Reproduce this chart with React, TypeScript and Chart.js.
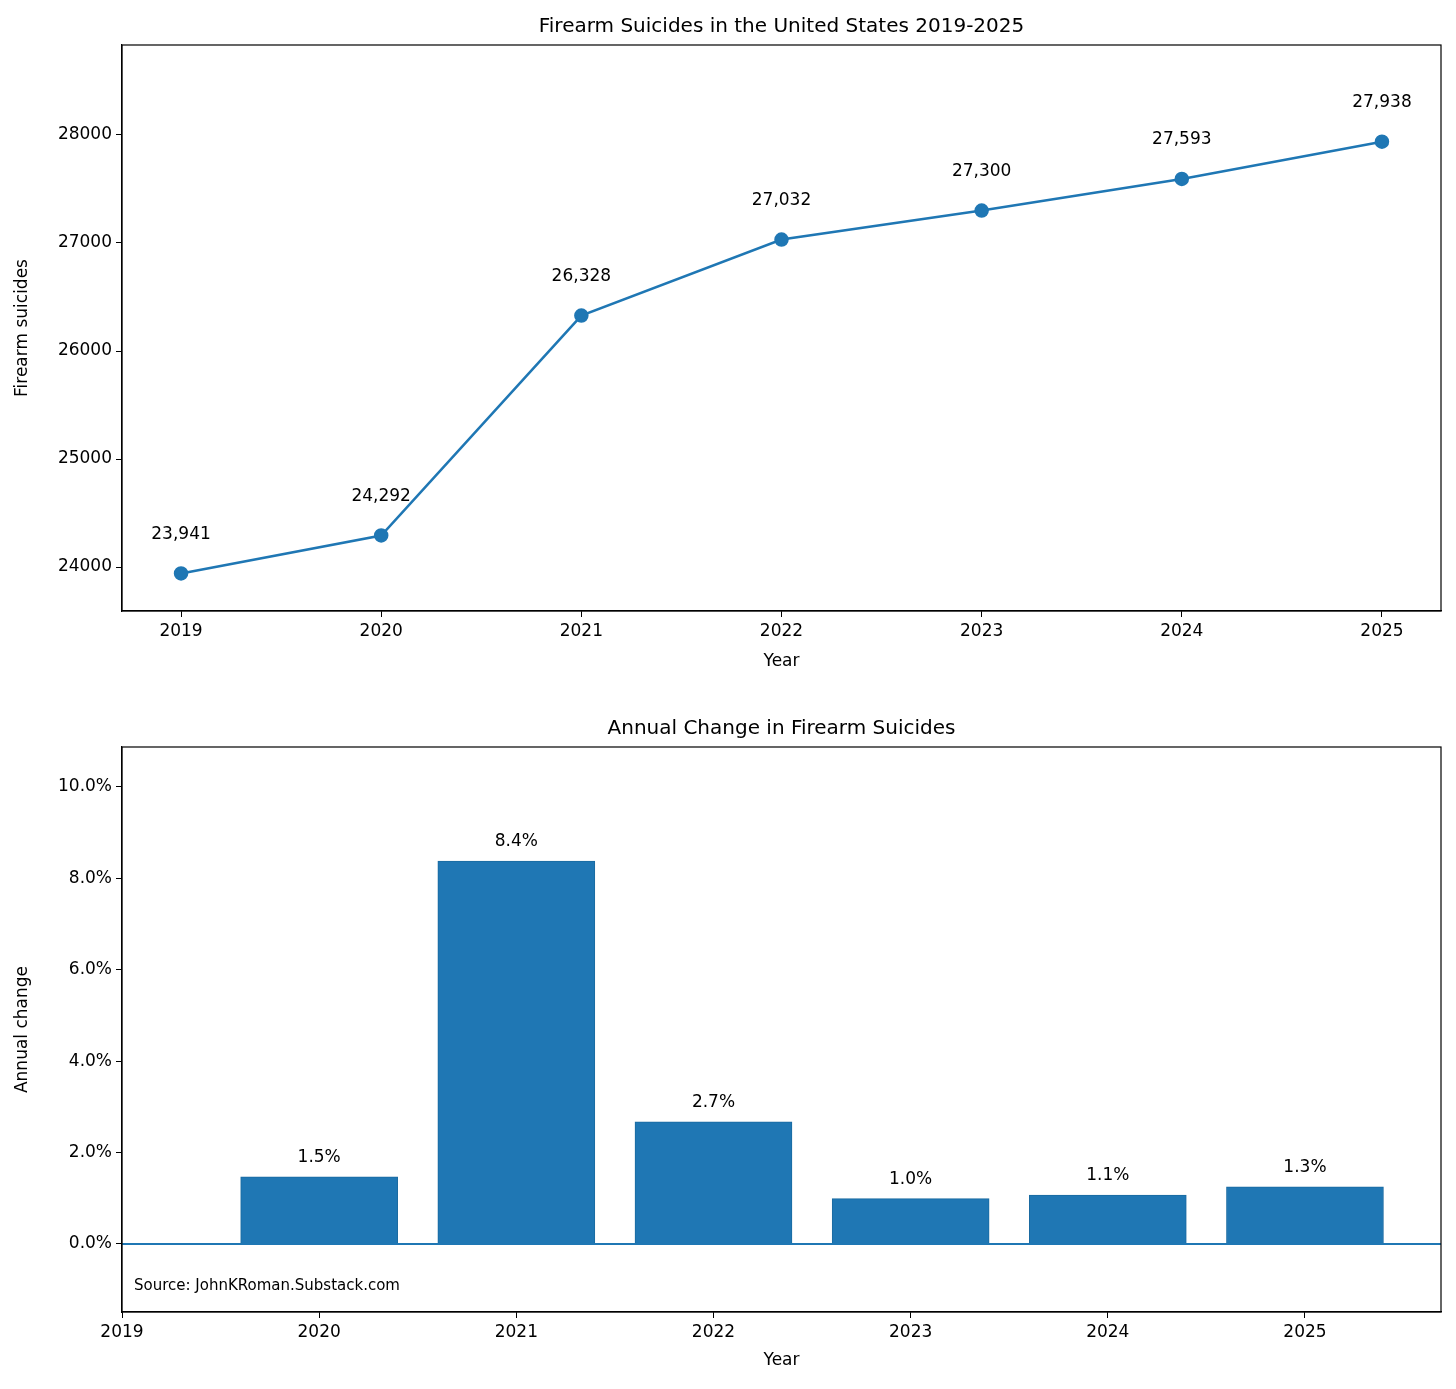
import React, { useEffect, useRef } from "react";
import { Chart, registerables } from "chart.js";
Chart.register(...registerables);

const years = [2019, 2020, 2021, 2022, 2023, 2024, 2025];
const suicides = [23941, 24292, 26328, 27032, 27300, 27593, 27938];
const changeYears = [2020, 2021, 2022, 2023, 2024, 2025];
const changes = [1.47, 8.38, 2.67, 0.99, 1.07, 1.25];
const topYTicks = [24000, 25000, 26000, 27000, 28000];
const botYTicks = [0, 2, 4, 6, 8, 10];

const BLUE = "#1f77b4";
const FONT = "'DejaVu Sans', sans-serif";

const frame = (title: string, labels: (ctx: any, chart: any) => void) => ({
  id: "frame",
  afterDraw(chart: any) {
    const { ctx, chartArea: a } = chart;
    ctx.save();
    ctx.strokeStyle = "#000";
    ctx.lineWidth = 1.2;
    ctx.strokeRect(a.left, a.top, a.right - a.left, a.bottom - a.top);
    ctx.fillStyle = "#000";
    ctx.font = `20px ${FONT}`;
    ctx.textAlign = "center";
    ctx.textBaseline = "bottom";
    ctx.fillText(title, (a.left + a.right) / 2, a.top - 8);
    labels(ctx, chart);
    ctx.restore();
  },
});

const axisBase = (ticks: number[], min: number, max: number, fmt: (v: number) => string, title: string, vertical: boolean, size: number) => ({
  type: "linear" as const,
  min,
  max,
  offset: false,
  afterBuildTicks: (s: any) => { s.ticks = ticks.map((v) => ({ value: v })); },
  afterFit: (s: any) => { if (vertical) s.width = size; else s.height = size; },
  grid: { drawOnChartArea: false, drawTicks: true, tickLength: 6, color: "#000", offset: false },
  border: { display: true, color: "#000", width: 1.2 },
  ticks: { color: "#000", font: { family: FONT, size: 17 }, padding: 4, callback: (v: any) => fmt(Number(v)) },
  title: { display: true, text: title, color: "#000", font: { family: FONT, size: 17 }, padding: vertical ? { top: 12, bottom: 0 } : { top: 2, bottom: 18 } },
});

export default function App() {
  const r1 = useRef<HTMLCanvasElement>(null);
  const r2 = useRef<HTMLCanvasElement>(null);
  useEffect(() => {
    const c1 = new Chart(r1.current!, {
      type: "line",
      data: {
        datasets: [{
          data: years.map((y, i) => ({ x: y, y: suicides[i] })),
          borderColor: BLUE, backgroundColor: BLUE, borderWidth: 2.5,
          pointRadius: 6, pointBackgroundColor: BLUE, pointBorderColor: BLUE,
        }],
      },
      options: {
        animation: false, responsive: false,
        layout: { padding: { top: 45, right: 15, left: 0, bottom: 0 } },
        plugins: { legend: { display: false }, tooltip: { enabled: false } },
        scales: {
          x: axisBase(years, 2018.705, 2025.295, (v) => String(v), "Year", false, 79),
          y: axisBase(topYTicks, 23593, 28833, (v) => String(v), "Firearm suicides", true, 122),
        },
      },
      plugins: [frame("Firearm Suicides in the United States 2019-2025", (ctx, chart) => {
        ctx.font = `17px ${FONT}`;
        ctx.textBaseline = "middle";
        const xs = chart.scales.x, ys = chart.scales.y;
        years.forEach((y, i) => {
          ctx.fillText(suicides[i].toLocaleString("en-US"), xs.getPixelForValue(y), ys.getPixelForValue(suicides[i]) - 39);
        });
      })],
    } as any);
    const c2 = new Chart(r2.current!, {
      type: "bar",
      data: {
        datasets: [
          {
            type: "line",
            data: [{ x: 2018, y: 0 }, { x: 2027, y: 0 }],
            borderColor: BLUE, borderWidth: 2, pointRadius: 0,
          } as any,
          {
            data: changeYears.map((y, i) => ({ x: y, y: changes[i] })),
            backgroundColor: BLUE, borderColor: "#1a6aa0", borderWidth: 1,
            barThickness: 157,
          },
        ],
      },
      options: {
        animation: false, responsive: false,
        layout: { padding: { top: 57, right: 15, left: 0, bottom: 0 } },
        plugins: { legend: { display: false }, tooltip: { enabled: false } },
        scales: {
          x: axisBase(years, 2019, 2025.69, (v) => String(v), "Year", false, 77),
          y: axisBase(botYTicks, -1.49, 10.875, (v) => v.toFixed(1) + "%", "Annual change", true, 122),
        },
      },
      plugins: [frame("Annual Change in Firearm Suicides", (ctx, chart) => {
        ctx.font = `17px ${FONT}`;
        ctx.textBaseline = "middle";
        const xs = chart.scales.x, ys = chart.scales.y;
        changeYears.forEach((y, i) => {
          ctx.fillText(changes[i].toFixed(1) + "%", xs.getPixelForValue(y), ys.getPixelForValue(changes[i]) - 19);
        });
        ctx.textAlign = "left";
        ctx.font = `15px ${FONT}`;
        ctx.fillText("Source: JohnKRoman.Substack.com", chart.chartArea.left + 12, chart.chartArea.bottom - 26);
      })],
    } as any);
    return () => { c1.destroy(); c2.destroy(); };
  }, []);
  return (
    <div style={{ position: "fixed", left: 0, top: 0, width: 1456, height: 1389, background: "#fff" }}>
      <canvas ref={r1} width={1456} height={690} style={{ display: "block", width: 1456, height: 690 }} />
      <canvas ref={r2} width={1456} height={699} style={{ display: "block", width: 1456, height: 699 }} />
    </div>
  );
}
